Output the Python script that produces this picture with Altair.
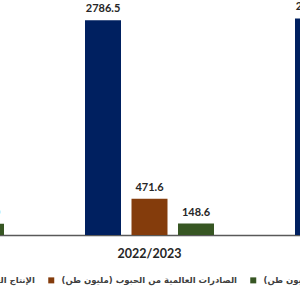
import altair as alt
import pandas as pd

years = ["2021/2022", "2022/2023", "2023/2024"]
series_names = [
    "الإنتاج العالمي من الحبوب (مليون طن)",
    "الصادرات العالمية من الحبوب (مليون طن)",
    "الواردات العربية من الحبوب (مليون طن)",
]
production = [2801.3, 2786.5, 2810.2]
exports = [482.5, 471.6, 474.0]
imports_arab = [145.0, 148.6, 150.1]
colors = ["#002060", "#843C0C", "#375623"]

rows = []
for i, yr in enumerate(years):
    for name, vals in zip(series_names, [production, exports, imports_arab]):
        rows.append({"year": yr, "series": name, "value": vals[i], "label": f"{vals[i]:.1f}"})
df = pd.DataFrame(rows)

x = alt.X(
    "year:N",
    sort=years,
    scale=alt.Scale(range=[-165.5, 464.5], paddingInner=0, paddingOuter=0),
    axis=alt.Axis(
        title=None, ticks=False, labelAngle=0, labelFont="Lato", labelFontWeight="bold",
        labelFontSize=12.5, labelColor="#262626", labelPadding=12,
        domainColor="#595959", domainWidth=1.5, grid=False,
    ),
)
xoff = alt.XOffset("series:N", sort=series_names,
                   scale=alt.Scale(domain=series_names, paddingInner=0.2258, paddingOuter=0.871))
y = alt.Y("value:Q", scale=alt.Scale(domain=[0, 3050], nice=False), axis=None)

bars = alt.Chart(df).mark_bar(clip=True).encode(
    x=x, xOffset=xoff, y=y,
    color=alt.Color(
        "series:N", sort=series_names,
        scale=alt.Scale(domain=series_names, range=colors),
        legend=alt.Legend(
            title=None, orient="none", legendX=-142, legendY=276, direction="horizontal",
            symbolType="square", symbolSize=36, symbolStrokeWidth=0,
            labelFont="DejaVu Sans", labelFontWeight="bold", labelFontSize=8.5,
            labelColor="#404040", labelLimit=400, columnPadding=12, labelOffset=6,
        ),
    ),
)

text = alt.Chart(df).mark_text(
    clip=True, dy=-6, baseline="bottom", font="Lato", fontWeight="bold",
    fontSize=11, color="#262626",
).encode(x=x, xOffset=xoff, y=y, text="label:N")

chart = alt.layer(bars, text).properties(
    width=300, height=235,
    autosize=alt.AutoSizeParams(type="none"),
    padding={"left": 0, "top": 0, "right": 0, "bottom": 65},
).configure_view(stroke=None)

chart.save("out.html", embed_options={"renderer": "svg", "actions": False})
